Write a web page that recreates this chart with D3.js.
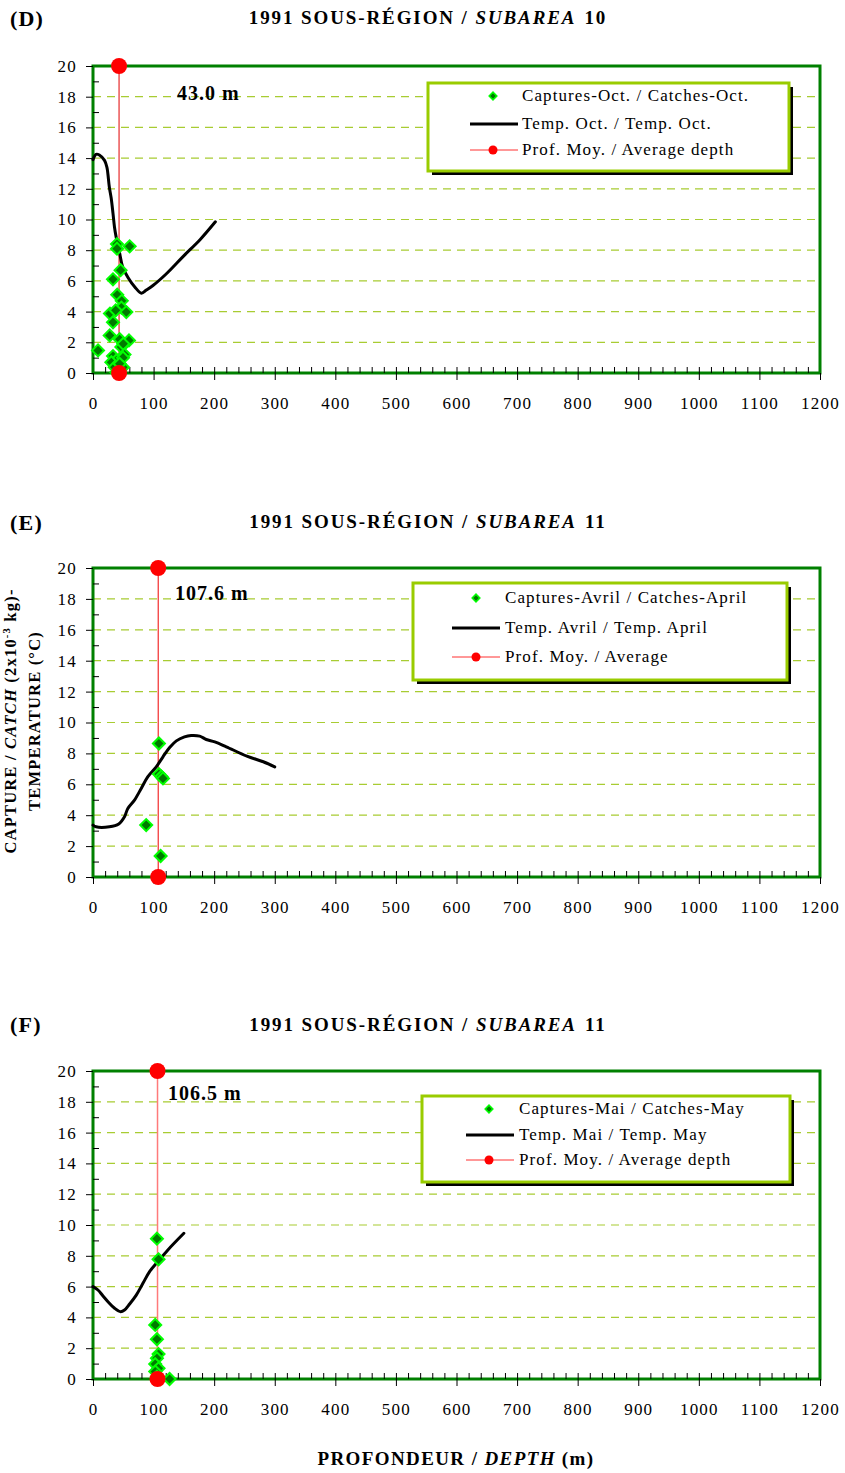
<!DOCTYPE html>
<html>
<head>
<meta charset="utf-8">
<script src="https://cdn.jsdelivr.net/npm/d3@7"></script>
<style>
  body { margin: 0; background: #fff; }
  svg { display: block; font-family: "Liberation Serif", "Times New Roman", serif; }
</style>
</head>
<body>
<svg id="chart" width="845" height="1473"></svg>
<script>
// ---- axis ticks ----
const depthTicks = [0, 100, 200, 300, 400, 500, 600, 700, 800, 900, 1000, 1100, 1200];
const valueTicks = [0, 2, 4, 6, 8, 10, 12, 14, 16, 18, 20];
const gridValues = [2, 4, 6, 8, 10, 12, 14, 16, 18];

// ---- (D) subarea 10, October ----
const tempDepthD = [0, 5, 10.5, 19, 23, 24.5, 27, 30, 33, 35.5, 38, 44, 49, 58, 69, 80, 88, 99, 122, 149, 177, 202];
const tempD      = [13.9, 14.25, 14.2, 13.85, 13.4, 13.0, 12.1, 11.4, 10.4, 9.5, 8.9, 7.8, 6.9, 6.2, 5.6, 5.2, 5.4, 5.7, 6.5, 7.6, 8.7, 9.85];
const catchDepthD = [39.6, 39.6, 60.5, 45.5, 33, 40, 47.5, 28, 46.8, 55, 37.5, 33, 27.6, 8.3, 44, 59.4, 46.8, 50, 52, 33, 38.6, 49.5, 30.3, 35.8, 49.5, 44, 38.6];
const catchD      = [8.4, 8.1, 8.25, 6.7, 6.1, 5.1, 4.7, 3.87, 4.26, 3.97, 4.08, 3.3, 2.45, 1.47, 2.2, 2.12, 1.7, 1.9, 1.2, 1.1, 0.82, 1.0, 0.7, 0.38, 0.38, 0.6, 0.05];
const avgDepthD = 43.0;

// ---- (E) subarea 11, April ----
const tempDepthE = [0, 5, 27, 42.5, 52, 57.5, 68.5, 79.6, 90.6, 104.4, 115.5, 126.5, 137.6, 151, 162, 176, 187, 201, 220, 254, 281, 300];
const tempE      = [3.36, 3.25, 3.25, 3.43, 3.9, 4.44, 4.98, 5.73, 6.49, 7.13, 7.78, 8.38, 8.81, 9.07, 9.16, 9.12, 8.9, 8.75, 8.43, 7.82, 7.46, 7.13];
const catchDepthE = [108.8, 108.8, 113, 115.5, 87.8, 111.6];
const catchE      = [8.64, 6.66, 6.5, 6.38, 3.36, 1.36];
const avgDepthE = 107.6;

// ---- (F) subarea 11, May ----
const tempDepthF = [0, 8.2, 16.5, 24.7, 35.7, 45.6, 52, 60.4, 71.4, 82.4, 93.4, 107, 123.6, 150];
const tempF      = [6.0, 5.78, 5.39, 5.02, 4.59, 4.37, 4.48, 4.87, 5.45, 6.21, 6.97, 7.62, 8.38, 9.46];
const catchDepthF = [105.5, 108.2, 102.7, 105.5, 108.2, 105.5, 102.7, 108.2, 102.7, 105.5, 126.4];
const catchF      = [9.11, 7.77, 3.51, 2.58, 1.62, 1.34, 0.97, 0.69, 0.48, 0.15, 0.0];
const avgDepthF = 106.5;

// ---- panel layout and labels ----
const panels = [
  { tag: "(D)", area: "10", top: 66, bottom: 373, tagY: 26, titleY: 24,
    tempDepth: tempDepthD, temp: tempD, catchDepth: catchDepthD, catchVal: catchD, avg: avgDepthD,
    avgColor: "#e00000", avgWidth: 1,
    legendTexts: ["Captures-Oct. / Catches-Oct.", "Temp. Oct. / Temp. Oct.", "Prof. Moy. / Average depth"],
    legend: { x0: 428, y0: 83, x1: 789, y1: 171, rows: [96, 124, 150], mark: 493, text: 522, l0: 470, l1: 518 },
    note: { x: 177, y: 100 } },
  { tag: "(E)", area: "11", top: 568, bottom: 877, tagY: 530, titleY: 528,
    tempDepth: tempDepthE, temp: tempE, catchDepth: catchDepthE, catchVal: catchE, avg: avgDepthE,
    avgColor: "#f00000", avgWidth: 1,
    legendTexts: ["Captures-Avril / Catches-April", "Temp. Avril / Temp. April", "Prof. Moy. / Average"],
    legend: { x0: 413, y0: 583, x1: 787, y1: 680, rows: [598, 628, 657], mark: 476, text: 505, l0: 452, l1: 500 },
    note: { x: 175, y: 600 } },
  { tag: "(F)", area: "11", top: 1071, bottom: 1379, tagY: 1032, titleY: 1031,
    tempDepth: tempDepthF, temp: tempF, catchDepth: catchDepthF, catchVal: catchF, avg: avgDepthF,
    avgColor: "#ff7a7a", avgWidth: 1.5,
    legendTexts: ["Captures-Mai / Catches-May", "Temp. Mai / Temp. May", "Prof. Moy. / Average depth"],
    legend: { x0: 422, y0: 1096, x1: 790, y1: 1182, rows: [1109, 1135, 1160], mark: 489, text: 519, l0: 466, l1: 514 },
    note: { x: 168, y: 1100 } }
];

const svg = d3.select("#chart");
const LEFT = 93, RIGHT = 820;
const FRAME = "#008000", GRID = "#a8cc32", LEGEND_BORDER = "#99cc00";
const FILL = "#007a00", EDGE = "#00ff00";
const SERIF = "Liberation Serif";

const marker = d3.symbol().type(d3.symbolSquare);

panels.forEach(p => {
  const x = d3.scaleLinear().domain([0, 1200]).range([LEFT, RIGHT]);
  const y = d3.scaleLinear().domain([0, 20]).range([p.bottom, p.top]);
  const g = svg.append("g");

  // panel tag and title
  g.append("text").attr("x", 10).attr("y", p.tagY)
    .attr("font-size", 22).attr("font-weight", "bold").attr("letter-spacing", 1.2).text(p.tag);
  const t = g.append("text").attr("x", 428).attr("y", p.titleY).attr("text-anchor", "middle")
    .attr("font-size", 19).attr("font-weight", "bold").attr("letter-spacing", 1.9);
  t.append("tspan").text("1991 SOUS-RÉGION / ");
  t.append("tspan").attr("font-style", "italic").text("SUBAREA");
  t.append("tspan").attr("dx", 8).text(p.area);

  // dashed horizontal gridlines
  g.append("g").selectAll("line").data(gridValues).join("line")
    .attr("x1", LEFT).attr("x2", RIGHT)
    .attr("y1", d => y(d)).attr("y2", d => y(d))
    .attr("stroke", GRID).attr("stroke-width", 1.2).attr("stroke-dasharray", "8,6");

  // plot frame
  g.append("rect").attr("x", LEFT).attr("y", p.top)
    .attr("width", RIGHT - LEFT).attr("height", p.bottom - p.top)
    .attr("fill", "none").attr("stroke", FRAME).attr("stroke-width", 3);

  // y axis: major ticks outside, minor ticks inside
  const yAxis = g.append("g").attr("transform", `translate(${LEFT},0)`)
    .call(d3.axisLeft(y).tickValues(valueTicks).tickSize(7).tickPadding(9).tickFormat(d3.format("d")));
  yAxis.select(".domain").remove();
  yAxis.selectAll("text").attr("font-size", 17).attr("letter-spacing", 1.2)
    .attr("font-family", SERIF).attr("fill", "#000");
  const yMinor = g.append("g").attr("transform", `translate(${LEFT},0)`)
    .call(d3.axisRight(y).tickValues(d3.range(1, 20, 2)).tickSize(6).tickFormat(""));
  yMinor.select(".domain").remove();

  // x axis: major ticks crossing, minor ticks inside
  const xAxis = g.append("g").attr("transform", `translate(0,${p.bottom})`)
    .call(d3.axisBottom(x).tickValues(depthTicks).tickSize(7).tickPadding(17).tickFormat(d3.format("d")));
  xAxis.select(".domain").remove();
  xAxis.selectAll("text").attr("font-size", 17).attr("letter-spacing", 1.2)
    .attr("font-family", SERIF).attr("fill", "#000");
  const xMinor = g.append("g").attr("transform", `translate(0,${p.bottom})`)
    .call(d3.axisTop(x).tickValues(d3.range(20, 1200, 20)).tickSize(6).tickFormat(""));
  xMinor.select(".domain").remove();
  g.selectAll(".tick line").attr("stroke", "#000").attr("stroke-width", 1);

  // average depth reference line
  g.append("line").attr("x1", x(p.avg)).attr("x2", x(p.avg))
    .attr("y1", y(0)).attr("y2", y(20))
    .attr("stroke", p.avgColor).attr("stroke-width", p.avgWidth);

  // temperature profile
  const tempPts = p.tempDepth.map((d, i) => [d, p.temp[i]]);
  g.append("path").datum(tempPts)
    .attr("d", d3.line().x(d => x(d[0])).y(d => y(d[1])).curve(d3.curveCatmullRom.alpha(0.5)))
    .attr("fill", "none").attr("stroke", "#000").attr("stroke-width", 3)
    .attr("stroke-linejoin", "round").attr("stroke-linecap", "round");

  // catches
  const catchPts = p.catchDepth.map((d, i) => [d, p.catchVal[i]]);
  g.append("g").selectAll("path").data(catchPts).join("path")
    .attr("d", marker.size(72))
    .attr("transform", d => `translate(${x(d[0])},${y(d[1])}) rotate(45)`)
    .attr("fill", FILL).attr("stroke", EDGE).attr("stroke-width", 2);

  // average depth end points
  g.append("g").selectAll("circle").data([0, 20]).join("circle")
    .attr("cx", x(p.avg)).attr("cy", d => y(d)).attr("r", 8).attr("fill", "#ff0000");

  // average depth value
  g.append("text").attr("x", p.note.x).attr("y", p.note.y)
    .attr("font-size", 20).attr("font-weight", "bold").attr("letter-spacing", 1)
    .text(`${p.avg.toFixed(1)} m`);

  // legend
  const L = p.legend;
  g.append("rect").attr("x", L.x0 + 4).attr("y", L.y0 + 4)
    .attr("width", L.x1 - L.x0).attr("height", L.y1 - L.y0).attr("fill", "#000");
  g.append("rect").attr("x", L.x0).attr("y", L.y0)
    .attr("width", L.x1 - L.x0).attr("height", L.y1 - L.y0)
    .attr("fill", "#fff").attr("stroke", LEGEND_BORDER).attr("stroke-width", 3);
  g.append("path").attr("d", marker.size(30))
    .attr("transform", `translate(${L.mark},${L.rows[0]}) rotate(45)`)
    .attr("fill", FILL).attr("stroke", EDGE).attr("stroke-width", 1.5);
  g.append("line").attr("x1", L.l0).attr("x2", L.l1).attr("y1", L.rows[1]).attr("y2", L.rows[1])
    .attr("stroke", "#000").attr("stroke-width", 3);
  g.append("line").attr("x1", L.l0).attr("x2", L.l1).attr("y1", L.rows[2]).attr("y2", L.rows[2])
    .attr("stroke", "#ff3030").attr("stroke-width", 1);
  g.append("circle").attr("cx", L.mark).attr("cy", L.rows[2]).attr("r", 4.5).attr("fill", "#ff0000");
  g.selectAll(null).data(p.legendTexts).join("text")
    .attr("x", L.text).attr("y", (d, i) => L.rows[i] + 5)
    .attr("font-size", 17).attr("letter-spacing", 1.1).text(d => d);
});

// shared y-axis title
const yt = svg.append("g").attr("transform", "translate(0,721) rotate(-90)")
  .attr("font-size", 16.5).attr("font-weight", "bold").attr("text-anchor", "middle")
  .attr("letter-spacing", 1.2);
const l1 = yt.append("text").attr("x", 0).attr("y", 16);
l1.append("tspan").text("CAPTURE / ");
l1.append("tspan").attr("font-style", "italic").text("CATCH");
l1.append("tspan").text("  (2x10");
l1.append("tspan").attr("font-size", 10.5).attr("dy", -6).text("-3");
l1.append("tspan").attr("dy", 6).text(" kg)-");
yt.append("text").attr("x", 0).attr("y", 40).text("TEMPERATURE (°C)");

// shared x-axis title
const xt = svg.append("text").attr("x", 456).attr("y", 1465).attr("text-anchor", "middle")
  .attr("font-size", 19).attr("font-weight", "bold").attr("letter-spacing", 1.4);
xt.append("tspan").text("PROFONDEUR / ");
xt.append("tspan").attr("font-style", "italic").text("DEPTH");
xt.append("tspan").attr("dx", 6).text("(m)");
</script>
</body>
</html>
